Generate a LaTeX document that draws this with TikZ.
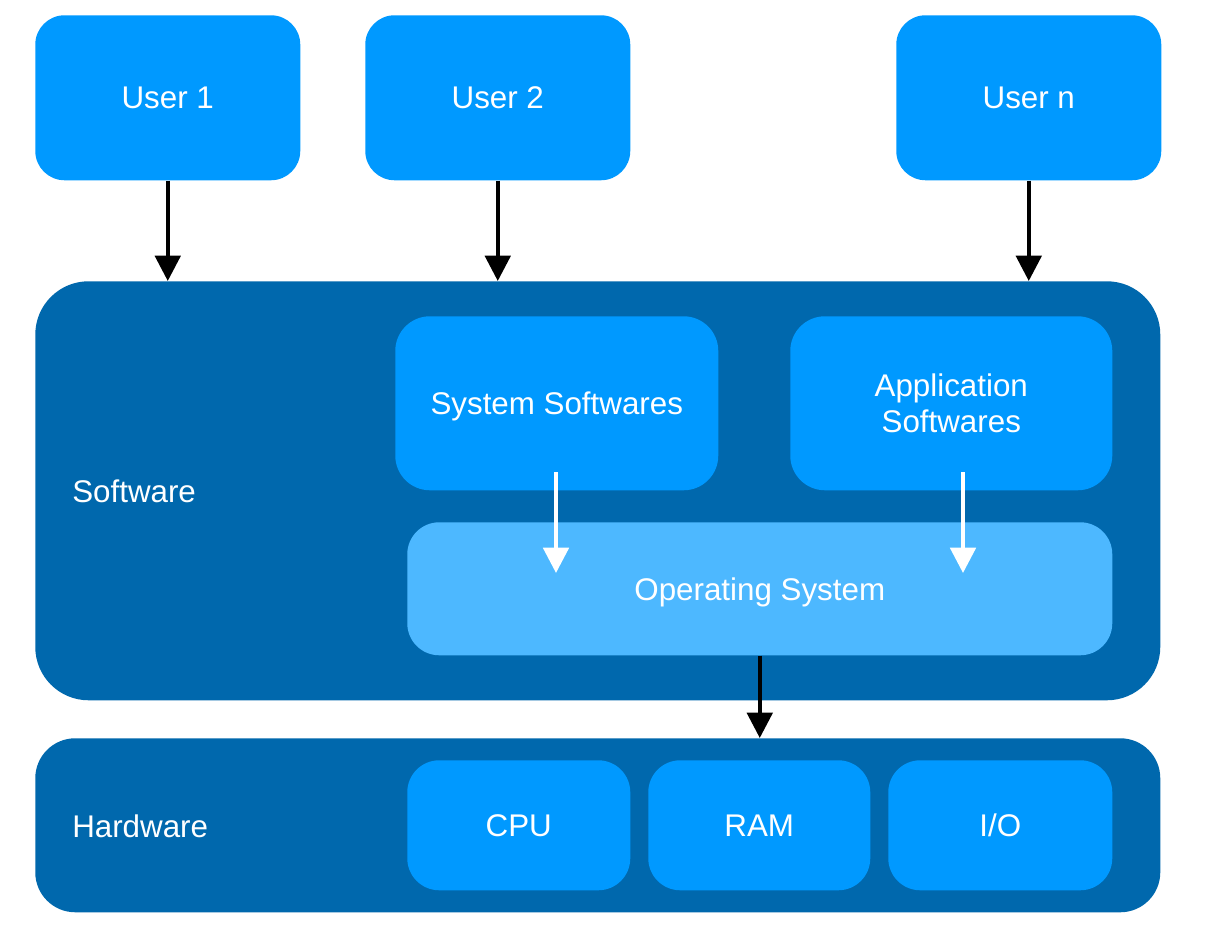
\documentclass[tikz,border=0pt]{standalone}
\usepackage{fontspec}
\setmainfont{Liberation Sans}
\usetikzlibrary{arrows.meta}
\definecolor{lightblue}{HTML}{0099FF}
\definecolor{darkblue}{HTML}{0068AD}
\definecolor{osblue}{HTML}{4DB8FF}
\begin{document}
\begin{tikzpicture}[x=0.75pt,y=-0.75pt,
  box/.style={anchor=north west,inner sep=0pt,text=white,align=center,
    font=\fontsize{23.5}{27}\selectfont,text depth=0pt},
  userbox/.style={box,fill=lightblue,rounded corners=22pt,minimum width=198.75pt,minimum height=123.75pt},
  layer/.style={box,fill=darkblue,rounded corners=40pt,minimum width=843.75pt},
  inner/.style={box,fill=lightblue,rounded corners=26pt},
  lbl/.style={anchor=west,text=white,inner sep=0pt,font=\fontsize{23.5}{27}\selectfont},
  blackarrow/.style={draw=black,line width=3pt,-{Triangle[width=19pt,length=19pt]}},
  whitearrow/.style={draw=white,line width=3pt,-{Triangle[width=19pt,length=19pt]}}
]
\useasboundingbox[fill=white] (0,0) rectangle (1205,929);

\node[userbox] (u1) at (35,15) {User 1};
\node[userbox] (u2) at (365,15) {User 2};
\node[userbox] (un) at (896,15) {User n};

\node[layer,minimum height=314.25pt] (sw) at (35,281) {};
\node[lbl] (swl) at (72,491) {Software};
\node[inner,minimum width=242.25pt,minimum height=130.5pt] (sys) at (395,316) {System Softwares};
\node[inner,minimum width=241.5pt,minimum height=130.5pt] (app) at (790,316) {Application\\Softwares};
\node[box,fill=osblue,rounded corners=24pt,minimum width=528.75pt,minimum height=99.75pt] (os) at (407,522) {Operating System};

\node[layer,rounded corners=30pt,minimum height=130.5pt] (hw) at (35,738) {};
\node[lbl] (hwl) at (72,826) {Hardware};
\node[inner,rounded corners=24pt,minimum width=167.25pt,minimum height=97.5pt] (cpu) at (407,760) {CPU};
\node[inner,rounded corners=24pt,minimum width=166.5pt,minimum height=97.5pt] (ram) at (648,760) {RAM};
\node[inner,rounded corners=24pt,minimum width=168pt,minimum height=97.5pt] (io) at (888,760) {I/O};

\draw[blackarrow] (u1.south) -- (u1.south |- sw.north);
\draw[blackarrow] (u2.south) -- (u2.south |- sw.north);
\draw[blackarrow] (un.south) -- (un.south |- sw.north);

\coordinate (s1) at (556,472);
\coordinate (t1) at (556,573);
\coordinate (s2) at (963,472);
\coordinate (t2) at (963,573);
\draw[whitearrow] (s1) -- (t1);
\draw[whitearrow] (s2) -- (t2);

\draw[blackarrow] (os.south) -- (os.south |- hw.north);
\end{tikzpicture}
\end{document}
